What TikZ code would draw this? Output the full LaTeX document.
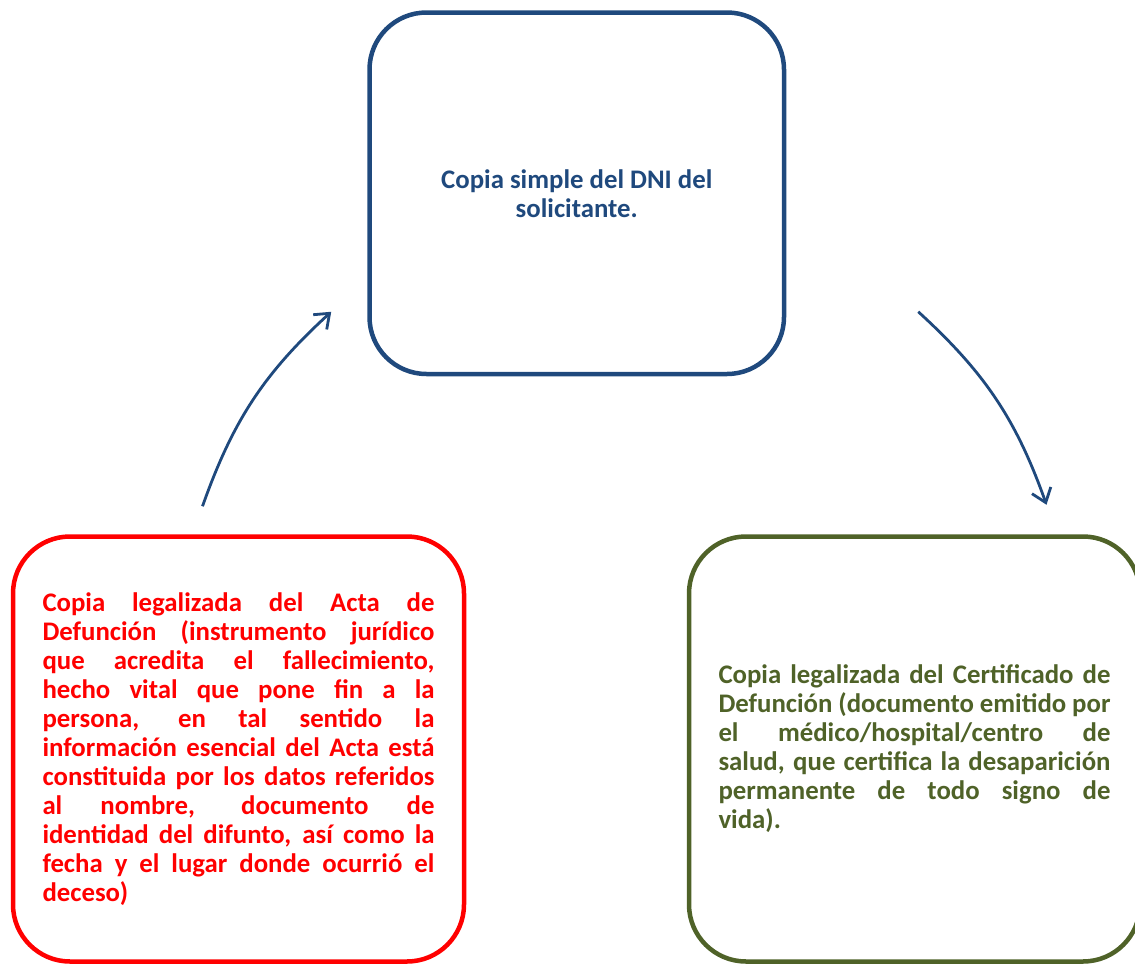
\documentclass[tikz,border=0pt]{standalone}
\usepackage{fontspec}
\setmainfont{Carlito}
\usetikzlibrary{arrows.meta,positioning}

\definecolor{azul}{HTML}{1F497D}
\definecolor{rojo}{HTML}{FF0000}
\definecolor{oliva}{HTML}{4F6228}

\begin{document}
\begin{tikzpicture}[
    caja/.style={draw,line width=4.5pt,rounded corners=57pt,font=\bfseries\fontsize{26.8pt}{29pt}\selectfont},
    lado/.style={caja,minimum width=451pt,minimum height=425pt,text width=392pt,align=justify},
    flecha/.style={azul,line width=2.8pt,-{Straight Barb[length=13pt,width=20pt]},bend left=14}]
    \useasboundingbox (0,0) rectangle (1135pt,-964pt);

    \node[caja,azul,minimum width=414.5pt,minimum height=361.5pt,align=center] (dni) at (576.75pt,-193.25pt)
        {Copia simple del DNI del\\solicitante.};

    \node[lado,rojo] (acta) at (238.5pt,-749pt)
        {Copia legalizada del Acta de\linebreak
         Defunción (instrumento jurídico\linebreak
         que acredita el fallecimiento,\linebreak
         hecho vital que pone fin a la\linebreak
         persona, en tal sentido la\linebreak
         información esencial del Acta está\linebreak
         constituida por los datos referidos\linebreak
         al nombre, documento de\linebreak
         identidad del difunto, así como la\linebreak
         fecha y el lugar donde ocurrió el\linebreak
         deceso)};

    \node[lado,oliva] (certificado) at (914.5pt,-749pt)
        {Copia legalizada del Certificado de\linebreak
         Defunción (documento emitido por\linebreak
         el médico/hospital/centro de\linebreak
         salud, que certifica la desaparición\linebreak
         permanente de todo signo de\linebreak
         vida).};

    \coordinate[above left=28pt and 36pt of acta.north] (a1);
    \coordinate[below left=118.5pt and 36pt of dni.west] (a2);
    \coordinate[below right=118.5pt and 132pt of dni.east] (b1);
    \coordinate[above right=29.5pt and 132pt of certificado.north] (b2);

    \foreach \from/\to in {a1/a2,b1/b2}
        \draw[flecha] (\from) to (\to);
\end{tikzpicture}
\end{document}
